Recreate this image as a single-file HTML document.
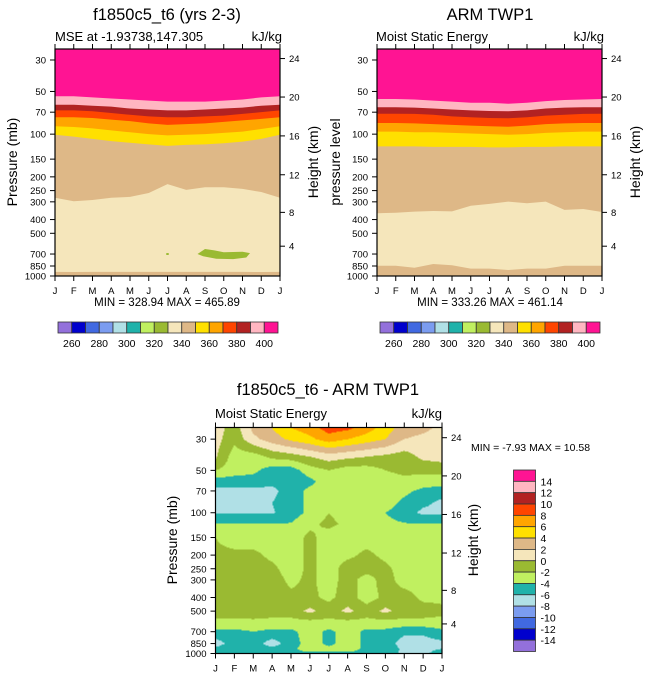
<!DOCTYPE html>
<html><head><meta charset="utf-8"><style>
html,body{margin:0;padding:0;background:#fff;}
svg{display:block;font-family:"Liberation Sans",sans-serif;}
</style></head><body>
<svg id="s" width="648" height="678" viewBox="0 0 648 678" xmlns="http://www.w3.org/2000/svg"></svg>
<script>
// ---------- data ----------
const months = ["J","F","M","A","M","J","J","A","S","O","N","D","J"];
const pressTicks = [30,50,70,100,150,200,250,300,400,500,700,850,1000];
const heightTicks = [4,8,12,16,20,24];
const cbColors = ["#9370db","#0000cd","#4169e1","#7b9cf0","#b0e0e6","#20b2aa","#c0f060","#9aba32","#f5e6bb","#deb887","#ffe000","#ffa500","#ff4500","#b22222","#ffb6c1","#ff1493"];
const cbLabelsAbs = [260,280,300,320,340,360,380,400];
const cbLabelsDiff = [14,12,10,8,6,4,2,0,-2,-4,-6,-8,-10,-12,-14];

// Panel 1 contour positions (pressure, mb) per month
const p1c400 = [54,54,55,56,57,58,59,59,59,58,57,55,54];
const p1c390 = [62,62,63,64,66,67,68,68,67,66,65,63,62];
const p1c380 = [68,68,69,71,73,75,76,76,75,74,72,70,68];
const p1c370 = [76,76,77,79,81,84,86,85,84,82,80,78,76];
const p1c360 = [88,89,91,94,97,100,102,101,100,98,96,92,88];
const p1c350 = [101,104,108,112,115,118,121,119,118,116,113,108,101];
const p1c340 = [281,297,291,281,277,260,225,247,237,237,243,256,281];
const p1c330b = [935,938,935,935,935,935,935,935,935,935,935,938,935];
const p1BlobMonths = [7.6,8.0,8.5,9.0,10.0,10.4,10.2,9.5,8.6,7.9];
const p1BlobPress = [700,645,660,680,675,690,740,760,755,725];

// Panel 2 contour positions
const p2c400 = [56.5,56.5,57,58,59,60,60,61,60,58.5,57.5,57,56.5];
const p2c390 = [64.6,64.6,65,66,67,68,68.6,69,68,66,65,64.6,64.6];
const p2c380 = [71.8,71.8,72,73,75,76,77,77.3,76,74,73,72,71.8];
const p2c370 = [83.4,83.4,84,85,86,87,88,88.6,87,85,84,83.4,83.4];
const p2c360 = [96,96,97,97,98,99,100,101,100,98,97,96,96];
const p2c350 = [122,122,122,123,123,123,124,124,123,123,122,122,122];
const p2c340 = [361,358,352,348,350,320,310,299,307,299,342,337,354];
const p2c330b = [846,846,874,823,840,888,888,907,888,888,846,846,846];

// Panel 3 difference field: rows = pressure levels, cols = months
const p3Levels = [25,30,40,50,60,70,85,100,120,150,200,250,300,400,500,600,700,850,925,1000];
const p3Values = [
 [1,-1,2.5,4,6,7,9,8.5,7,5,3,2.5,1.5],
 [0.8,-1.5,1.5,3,4.5,5.5,7,6,5,4,2,1.5,1],
 [0.3,-3,-3,-1.5,-1,0,1,0.5,0,-0.5,-1,0.5,1],
 [-2,-3,-3.5,-5,-5,-3,-2,-3,-3,-2,-1.5,-1.5,-1.5],
 [-5,-5,-5,-5.5,-5.5,-4.5,-3,-3,-3,-3,-2.5,-3,-3],
 [-6.5,-6.5,-6.5,-6.5,-5,-3.5,-3,-3,-3,-3,-3.5,-4.5,-5],
 [-6.5,-6.5,-6.5,-6,-5,-3.5,-3,-3,-3,-3,-4.5,-5.5,-6.5],
 [-6.2,-6.2,-6.2,-6.2,-5,-3.5,-2,-3,-3,-4,-5,-6.5,-6.5],
 [-3.9,-3.9,-3.9,-3.9,-3.9,-2.5,-1.5,-2.5,-3,-3.5,-3.9,-3.9,-3.9],
 [-2,-3,-3,-3,-3,-1.5,-3,-3,-3,-3,-3,-3,-2],
 [-1.5,-1.5,-1.5,-2.5,-3,-1.5,-3,-2.5,-1.5,-2.5,-3,-3,-2],
 [-1.5,-1,-1,-1.5,-3,-1.5,-3,-1,-1,-1.5,-3,-3,-2.5],
 [-1.5,-1,-1,-1,-2.5,-1.5,-3,-1,-3,-1,-3,-3,-2.5],
 [-1,-1,-1,-1,-1.5,-1.5,-2.5,-1,-3,-1.5,-1,-2.5,-2.5],
 [-1,-1,-0.5,-1,-1,0.5,-1,0.5,-1,0.5,-1,-1,-1.5],
 [-2.6,-2.6,-2.6,-2.7,-2.7,-2.6,-2.6,-2.6,-2.7,-2.7,-2.6,-2.6,-2.6],
 [-4.5,-4.5,-4,-4.5,-4.5,-3,-4.5,-3,-4.5,-4.5,-5.5,-5.5,-4.5],
 [-7,-5,-5,-7,-5,-3,-4.5,-3,-4.5,-5,-7,-7,-6.5],
 [-5.5,-4.5,-4.5,-5.5,-4.5,-3,-3.5,-3,-4.5,-4.5,-6.5,-6.5,-6],
 [-5,-4.5,-4.5,-4.5,-4.5,-4.5,-4.5,-4.5,-4.5,-5,-6.5,-6.5,-5]
];

// ---------- helpers ----------
const svg = document.getElementById('s');
const NS = "http://www.w3.org/2000/svg";
function mk(tag, attrs, parent){
  const e = document.createElementNS(NS, tag);
  for (const k in attrs) e.setAttribute(k, attrs[k]);
  (parent||svg).appendChild(e); return e;
}
function txt(x,y,s,size,anchor,parent,extra){
  const t = mk('text', Object.assign({x:x,y:y,'font-size':size,'text-anchor':anchor||'middle',fill:'#000'}, extra||{}), parent);
  t.textContent = s; return t;
}
function zToP(zkm){
  const z = zkm*1000;
  if (z<=11000) return 1013.25*Math.pow(1-0.0065*z/288.15,5.2559);
  if (z<=20000) return 226.32*Math.exp(-(z-11000)/6341.6);
  return 54.75*Math.pow(1+(z-20000)/216650,-34.163);
}
function makeAxes(P){
  P.x = m => P.xL + (P.xR-P.xL)*m/12;
  P.y = p => P.yT + (P.yB-P.yT)*Math.log(p/P.pTop)/Math.log(1000/P.pTop);
  P.yToLnP = y => Math.log(P.pTop) + (y-P.yT)/(P.yB-P.yT)*Math.log(1000/P.pTop);
  return P;
}
function frame(P, g){
  mk('rect',{x:P.xL,y:P.yT,width:P.xR-P.xL,height:P.yB-P.yT,fill:'none',stroke:'#000','stroke-width':1.2},g);
  const ax = mk('g',{},g);
  
  
  pressTicks.forEach(p=>{
    const y=P.y(p);
    mk('line',{x1:P.xL-5,x2:P.xL,y1:y,y2:y,stroke:'#000','stroke-width':1},ax);
    const t = txt(P.xL-9,y+3.5,String(p),9.5,'end',ax);
    
    
  });
  const hx = mk('g',{},g);
  
  
  heightTicks.forEach(h=>{
    const y=P.y(zToP(h));
    mk('line',{x1:P.xR,x2:P.xR+5,y1:y,y2:y,stroke:'#000','stroke-width':1},hx);
    const t = txt(P.xR+9,y+3.5,String(h),9.5,'start',hx);
    
    
  });
  const mx = mk('g',{},g);
  
  
  months.forEach((m,i)=>{
    const x=P.x(i);
    mk('line',{x1:x,x2:x,y1:P.yB,y2:P.yB+5,stroke:'#000','stroke-width':1},mx);
    mk('line',{x1:x,x2:x,y1:P.yT-5,y2:P.yT,stroke:'#000','stroke-width':1},mx);
    const t = txt(x,P.yB+18,m,9.5,'middle',mx);
    
    
  });
}
function curvePts(P, arr){ return arr.map((p,i)=>P.x(i).toFixed(2)+','+P.y(p).toFixed(2)); }
function bandBelow(P, arr, color, g, name){
  const pts = curvePts(P, arr);
  pts.push(P.xR+','+P.yB, P.xL+','+P.yB);
  const e = mk('polygon',{points:pts.join(' '),fill:color},g);
  
  
}
function hColorbar(x0,x1,y0,y1,g){
  const w=(x1-x0)/cbColors.length;
  cbColors.forEach((c,i)=>{
    const r = mk('rect',{x:x0+i*w,y:y0,width:w,height:y1-y0,fill:c,stroke:'#333','stroke-width':0.8},g);
    
    
  });
  cbLabelsAbs.forEach((v,k)=>{
    const t = txt(x0+(1+2*k)*w, y1+14, String(v), 10.5,'middle',g);
    
    
  });
}
function colorFor(v){
  let idx = Math.floor((v+16)/2);
  if (idx<0) idx=0; if (idx>15) idx=15;
  return cbColors[idx];
}

// ---------- Panel 1 ----------
const P1 = makeAxes({xL:55,xR:280,yT:49,yB:276,pTop:25.1});
const g1 = mk('g',{});  
const f1 = mk('g',{},g1);  
mk('rect',{x:P1.xL,y:P1.yT,width:P1.xR-P1.xL,height:P1.yB-P1.yT,fill:'#ff1493'},f1);
bandBelow(P1,p1c400,'#ffb6c1',f1,'band-390');
bandBelow(P1,p1c390,'#b22222',f1,'band-380');
bandBelow(P1,p1c380,'#ff4500',f1,'band-370');
bandBelow(P1,p1c370,'#ffa500',f1,'band-360');
bandBelow(P1,p1c360,'#ffe000',f1,'band-350');
bandBelow(P1,p1c350,'#deb887',f1,'band-340');
bandBelow(P1,p1c340,'#f5e6bb',f1,'band-330');
bandBelow(P1,p1c330b,'#deb887',f1,'band-surface-340');
{
  const pts = p1BlobMonths.map((m,i)=>P1.x(m).toFixed(2)+','+P1.y(p1BlobPress[i]).toFixed(2));
  const b = mk('polygon',{points:pts.join(' '),fill:'#9aba32'},f1);
  
  
  const d = mk('ellipse',{cx:P1.x(6),cy:P1.y(700),rx:1.5,ry:1,fill:'#9aba32'},f1);
  
  
}
frame(P1,g1);
txt(167,20,'f1850c5_t6 (yrs 2-3)',16.5,'middle',g1);
txt(55,41,'MSE at -1.93738,147.305',13,'start',g1);
txt(282,41,'kJ/kg',13,'end',g1);
txt(17,162,'Pressure (mb)',14,'middle',g1,{transform:'rotate(-90 17 162)'});
txt(318,162,'Height (km)',14,'middle',g1,{transform:'rotate(-90 318 162)'});
txt(167,306,'MIN = 328.94 MAX = 465.89',11.5,'middle',g1);
const cb1 = mk('g',{},g1);  
hColorbar(58,278,322,333,cb1);

// ---------- Panel 2 ----------
const P2 = makeAxes({xL:377,xR:602,yT:49,yB:276,pTop:25.1});
const g2 = mk('g',{});  
const f2 = mk('g',{},g2);  
mk('rect',{x:P2.xL,y:P2.yT,width:P2.xR-P2.xL,height:P2.yB-P2.yT,fill:'#ff1493'},f2);
bandBelow(P2,p2c400,'#ffb6c1',f2,'band-390');
bandBelow(P2,p2c390,'#b22222',f2,'band-380');
bandBelow(P2,p2c380,'#ff4500',f2,'band-370');
bandBelow(P2,p2c370,'#ffa500',f2,'band-360');
bandBelow(P2,p2c360,'#ffe000',f2,'band-350');
bandBelow(P2,p2c350,'#deb887',f2,'band-340');
bandBelow(P2,p2c340,'#f5e6bb',f2,'band-330');
bandBelow(P2,p2c330b,'#deb887',f2,'band-surface-340');
frame(P2,g2);
txt(490,20,'ARM TWP1',16.5,'middle',g2);
txt(376,41,'Moist Static Energy',13,'start',g2);
txt(604,41,'kJ/kg',13,'end',g2);
txt(340,162,'pressure level',14,'middle',g2,{transform:'rotate(-90 340 162)'});
txt(640,162,'Height (km)',14,'middle',g2,{transform:'rotate(-90 640 162)'});
txt(490,306,'MIN = 333.26 MAX = 461.14',11.5,'middle',g2);
const cb2 = mk('g',{},g2);  
hColorbar(380,600,322,333,cb2);

// ---------- Panel 3 ----------
const P3 = makeAxes({xL:215.5,xR:442,yT:427.5,yB:653.5,pTop:24.8});
const g3 = mk('g',{});  
const f3 = mk('g',{},g3);  
{
  const lnLev = p3Levels.map(p=>Math.log(p));
  const W = P3.xR-P3.xL;
  const nCols = Math.ceil(W);
  for (let py=P3.yT; py<P3.yB; py+=1){
    const lp = P3.yToLnP(py+0.5);
    let r=0; while (r<lnLev.length-2 && lp>lnLev[r+1]) r++;
    let wr = (lp-lnLev[r])/(lnLev[r+1]-lnLev[r]); wr=Math.max(0,Math.min(1,wr));
    const h = Math.min(1, P3.yB-py);
    let runStart=P3.xL, runColor=null;
    for (let k=0; k<=nCols; k++){
      const px = P3.xL + k;
      let c=null;
      if (k<nCols){
        const m = Math.min(12,(px+0.5-P3.xL)/W*12);
        let i=Math.min(11,Math.floor(m)); const wm=m-i;
        const a=p3Values[r][i]*(1-wm)+p3Values[r][i+1]*wm;
        const b=p3Values[r+1][i]*(1-wm)+p3Values[r+1][i+1]*wm;
        c = colorFor(a*(1-wr)+b*wr);
      }
      if (c!==runColor){
        if (runColor!==null){
          const xe = Math.min(px, P3.xR);
          const e = mk('rect',{x:runStart,y:py,width:(xe-runStart)+0.3,height:h+0.3,fill:runColor},f3);
          
          
        }
        runStart=px; runColor=c;
      }
    }
  }
}
frame(P3,g3);
txt(328,395,'f1850c5_t6 - ARM TWP1',16.5,'middle',g3);
txt(215,418,'Moist Static Energy',13,'start',g3);
txt(442,418,'kJ/kg',13,'end',g3);
txt(177,540,'Pressure (mb)',14,'middle',g3,{transform:'rotate(-90 177 540)'});
txt(478,540,'Height (km)',14,'middle',g3,{transform:'rotate(-90 478 540)'});
txt(471,451,'MIN =  -7.93 MAX =  10.58',10.5,'start',g3,{'xml:space':'preserve'});
{
  const cb = mk('g',{},g3);  
  const y0=470, y1=651.5, x0=513.5, x1=535.5, n=cbColors.length, hgt=(y1-y0)/n;
  for (let i=0;i<n;i++){
    const r = mk('rect',{x:x0,y:y0+i*hgt,width:x1-x0,height:hgt,fill:cbColors[n-1-i],stroke:'#333','stroke-width':0.8},cb);
    
    
  }
  cbLabelsDiff.forEach((v,k)=>{
    const t = txt(x1+5, y0+(k+1)*hgt+4, String(v), 10.5,'start',cb);
    
    
  });
}
</script>
</body></html>
